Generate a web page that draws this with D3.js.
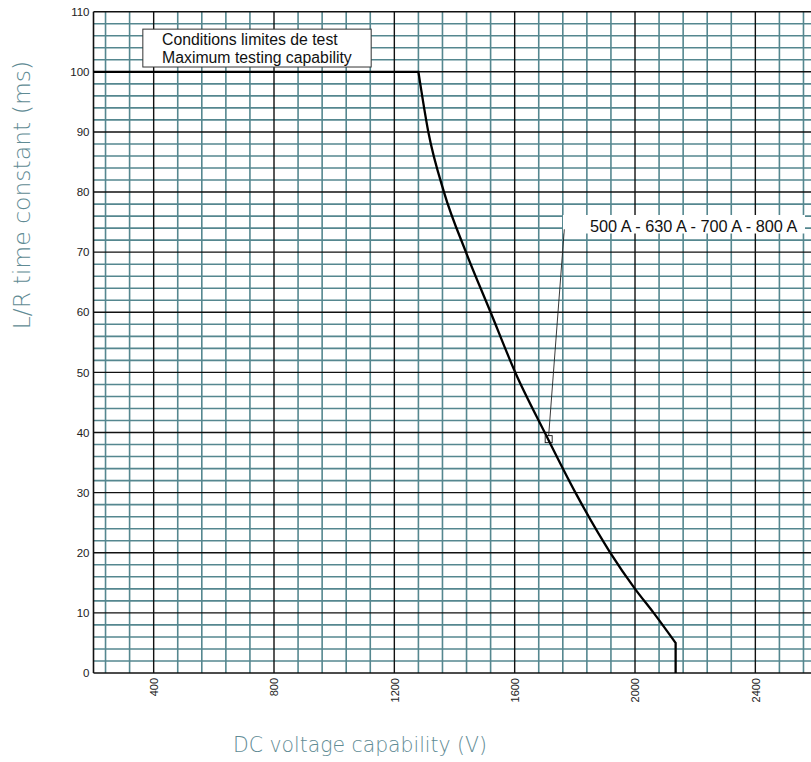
<!DOCTYPE html>
<html>
<head>
<meta charset="utf-8">
<script src="https://cdn.jsdelivr.net/npm/d3@7"></script>
<style>
  body { margin: 0; background: #fff; }
  svg { display: block; }
</style>
</head>
<body>
<div class="chart"></div>
<script>
// curve: DC voltage (V) vs L/R time constant (ms)
const voltage = [200, 1280, 1313, 1365, 1438, 1520, 1602, 1700, 1802, 1918, 2000, 2062, 2135, 2135];
const tau     = [100, 100,  90,   80,   70,   60,   50,   40,   30,   20,   14,   10,   5,    0];

const xTicks = [400, 800, 1200, 1600, 2000, 2400];
const yTicks = [0, 10, 20, 30, 40, 50, 60, 70, 80, 90, 100, 110];

const boxLines = ["Conditions limites de test", "Maximum testing capability"];
const curveLabel = "500 A - 630 A - 700 A - 800 A";
const markerPoint = [1713, 38.9];

const width = 811;
const height = 762;

const x = d3.scaleLinear().domain([200, 2585]).range([93.5, 811]);
const y = d3.scaleLinear().domain([0, 110]).range([673, 11.7]);

const svg = d3.select('.chart')
    .append('svg')
    .attr('width', width)
    .attr('height', height);

svg.append('rect')
    .attr('width', width)
    .attr('height', height)
    .attr('fill', '#fff');

// minor grid, teal
const minorX = d3.range(240, 2585, 80).filter(v => v % 400 !== 0);
const minorY = d3.range(2, 110, 2).filter(v => v % 10 !== 0);

svg.append('g')
    .selectAll('line')
    .data(minorX)
    .enter()
    .append('line')
        .attr('x1', d => x(d))
        .attr('x2', d => x(d))
        .attr('y1', y(110))
        .attr('y2', y(0))
        .attr('stroke', '#55878f')
        .attr('stroke-width', 1.6);

svg.append('g')
    .selectAll('line')
    .data(minorY)
    .enter()
    .append('line')
        .attr('x1', x(200))
        .attr('x2', width)
        .attr('y1', d => y(d))
        .attr('y2', d => y(d))
        .attr('stroke', '#55878f')
        .attr('stroke-width', 1.6);

// major grid, black
svg.append('g')
    .selectAll('line')
    .data(xTicks)
    .enter()
    .append('line')
        .attr('x1', d => x(d))
        .attr('x2', d => x(d))
        .attr('y1', y(110))
        .attr('y2', y(0))
        .attr('stroke', '#111')
        .attr('stroke-width', 1.4);

svg.append('g')
    .selectAll('line')
    .data(yTicks)
    .enter()
    .append('line')
        .attr('x1', x(200))
        .attr('x2', width)
        .attr('y1', d => y(d))
        .attr('y2', d => y(d))
        .attr('stroke', '#111')
        .attr('stroke-width', 1.4);

// left border
svg.append('line')
    .attr('x1', x(200)).attr('x2', x(200))
    .attr('y1', y(110)).attr('y2', y(0))
    .attr('stroke', '#111')
    .attr('stroke-width', 1.6);

// axes (labels only)
const yAxis = svg.append('g')
    .attr('transform', 'translate(' + x(200) + ',0)')
    .call(d3.axisLeft(y).tickValues(yTicks).tickSize(0).tickPadding(4));
yAxis.select('.domain').remove();
yAxis.selectAll('text')
    .attr('font-family', '"Liberation Sans", Arial, sans-serif')
    .attr('font-size', '11.5px')
    .attr('fill', '#222');

const xAxis = svg.append('g')
    .attr('transform', 'translate(0,' + y(0) + ')')
    .call(d3.axisBottom(x).tickValues(xTicks).tickFormat(d3.format('d')).tickSize(0));
xAxis.select('.domain').remove();
xAxis.selectAll('text')
    .attr('transform', 'rotate(-90)')
    .attr('text-anchor', 'end')
    .attr('x', -5)
    .attr('y', 0)
    .attr('dy', '0.35em')
    .attr('font-family', '"Liberation Sans", Arial, sans-serif')
    .attr('font-size', '11px')
    .attr('fill', '#222');

// axis titles
svg.append('text')
    .attr('transform', 'translate(30,195) rotate(-90)')
    .attr('text-anchor', 'middle')
    .attr('font-family', '"DejaVu Sans", sans-serif')
    .attr('font-weight', 200)
    .attr('font-size', '23.5px')
    .attr('fill', '#5f8b94')
    .text('L/R time constant (ms)');

svg.append('text')
    .attr('x', 360)
    .attr('y', 752)
    .attr('text-anchor', 'middle')
    .attr('font-family', '"DejaVu Sans", sans-serif')
    .attr('font-weight', 200)
    .attr('font-size', '20.4px')
    .attr('fill', '#5f8b94')
    .text('DC voltage capability (V)');

// "conditions" box
svg.append('rect')
    .attr('x', x(364))
    .attr('y', y(107.1))
    .attr('width', x(1123) - x(364))
    .attr('height', y(100.8) - y(107.1))
    .attr('fill', '#fff')
    .attr('stroke', '#333')
    .attr('stroke-width', 1);

svg.append('g')
    .selectAll('text')
    .data(boxLines)
    .enter()
    .append('text')
        .attr('x', x(428))
        .attr('y', (d, i) => 45 + i * 17.5)
        .attr('font-family', '"Liberation Sans", Arial, sans-serif')
        .attr('font-size', '15.8px')
        .attr('fill', '#111')
        .text(d => d);

// curve label
svg.append('rect')
    .attr('x', 563)
    .attr('y', 215)
    .attr('width', 242)
    .attr('height', 18.5)
    .attr('fill', '#fff');

svg.append('text')
    .attr('x', 590)
    .attr('y', 231.5)
    .attr('font-family', '"Liberation Sans", Arial, sans-serif')
    .attr('font-size', '16.3px')
    .attr('fill', '#111')
    .text(curveLabel);

// curve: flat part, bend, vertical drop
const pts = voltage.map((v, i) => [v, tau[i]]);
const straight = d3.line().x(d => x(d[0])).y(d => y(d[1]));
const smooth = d3.line().x(d => x(d[0])).y(d => y(d[1])).curve(d3.curveMonotoneX);

svg.append('path')
    .attr('d', straight(pts.slice(0, 2)) + smooth(pts.slice(1, 13)).replace(/^M/, 'L') + straight(pts.slice(12)).replace(/^M/, 'L'))
    .attr('fill', 'none')
    .attr('stroke', '#000')
    .attr('stroke-width', 2.3)
    .attr('stroke-linejoin', 'miter');

// leader line and marker
svg.append('line')
    .attr('x1', 564.3)
    .attr('y1', 229.3)
    .attr('x2', x(markerPoint[0]))
    .attr('y2', y(markerPoint[1]) - 3.5)
    .attr('stroke', '#222')
    .attr('stroke-width', 0.9);

svg.append('rect')
    .attr('x', x(markerPoint[0]) - 3.5)
    .attr('y', y(markerPoint[1]) - 3.5)
    .attr('width', 7)
    .attr('height', 7)
    .attr('fill', 'none')
    .attr('stroke', '#111')
    .attr('stroke-width', 0.9);
</script>
</body>
</html>
